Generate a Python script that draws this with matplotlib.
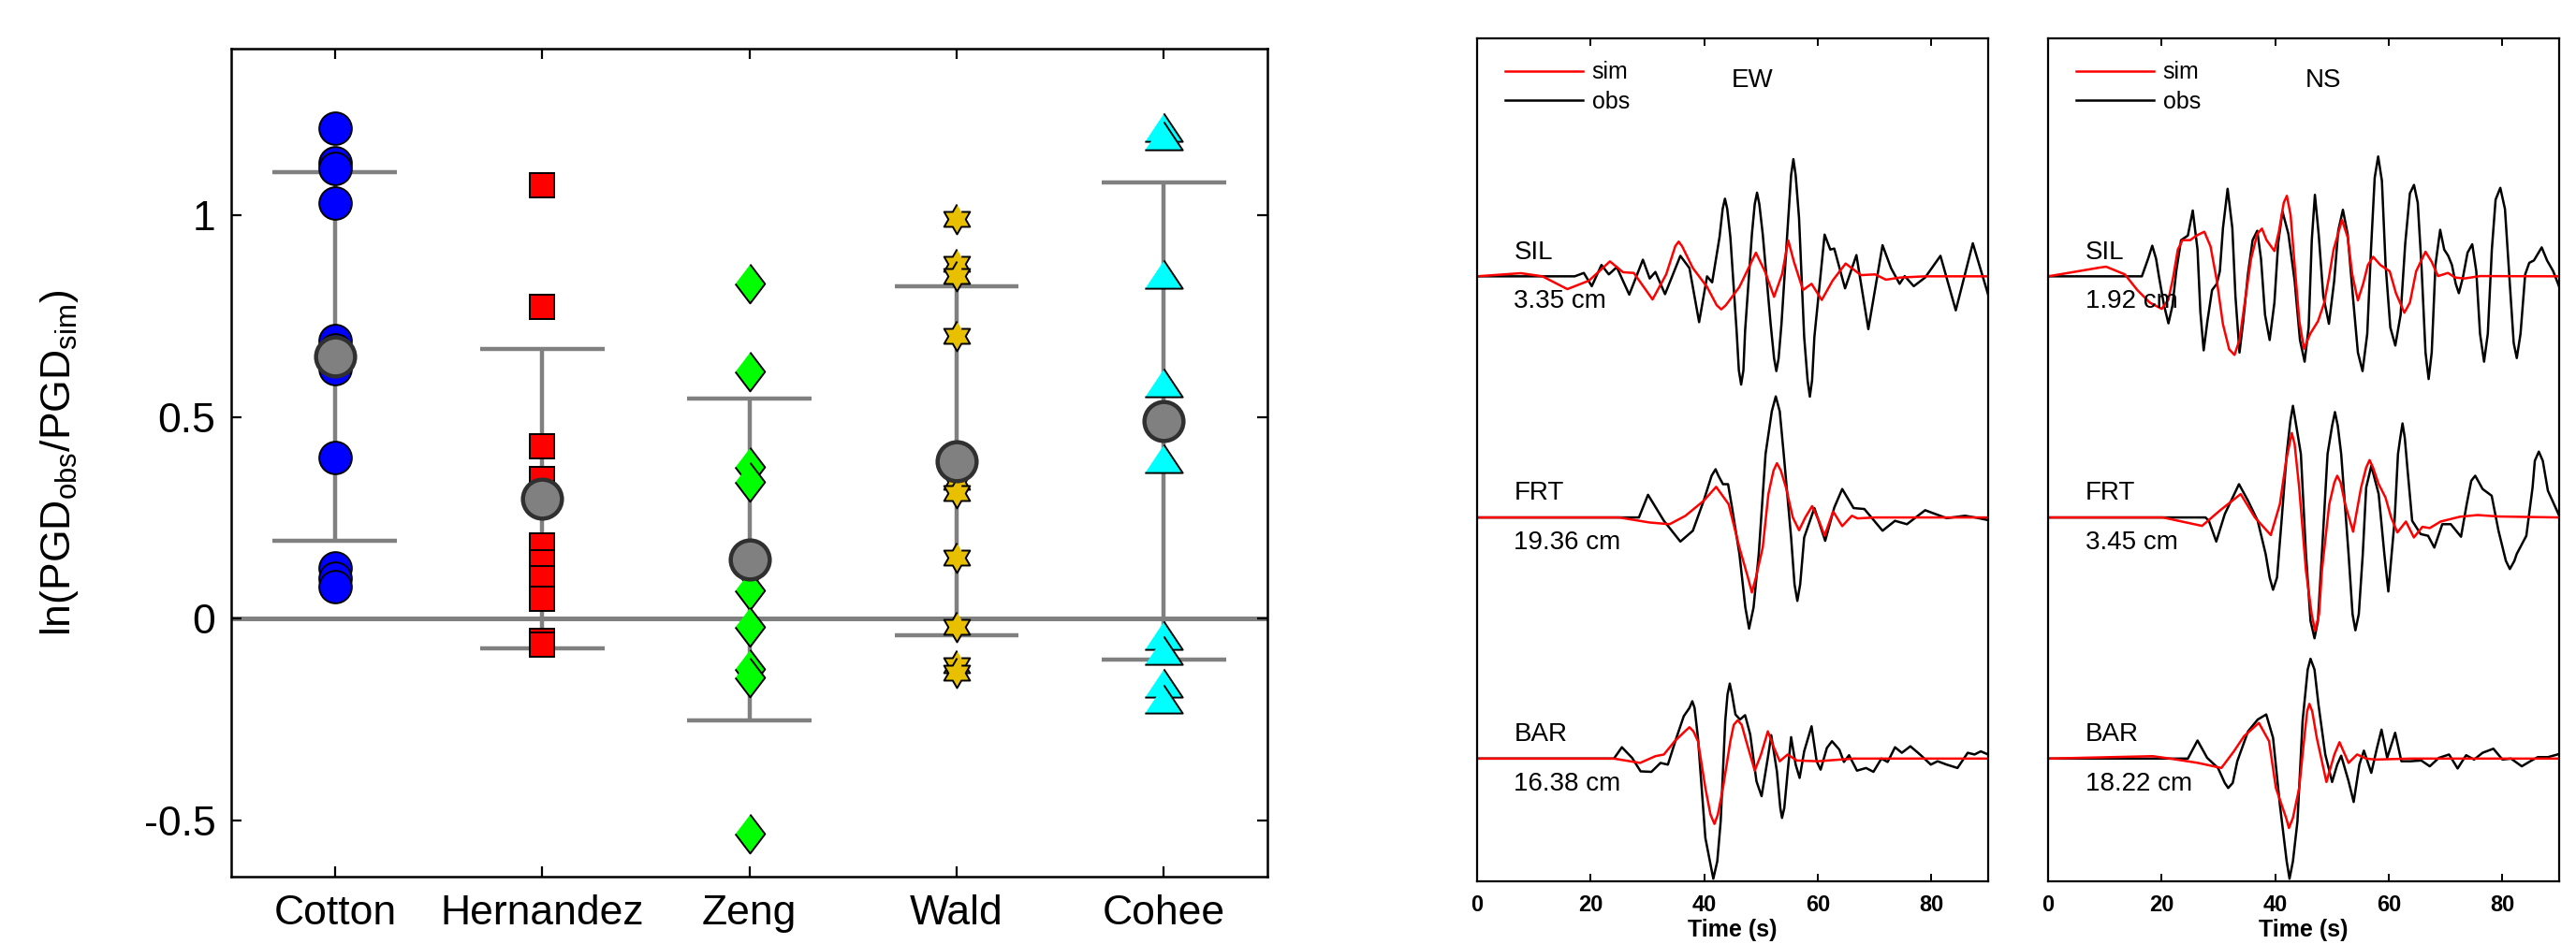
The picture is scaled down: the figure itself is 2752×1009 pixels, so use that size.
import numpy as np
import matplotlib
matplotlib.use('Agg')
import matplotlib.pyplot as plt

plt.rcParams['font.family'] = ['Liberation Sans', 'DejaVu Sans']
plt.rcParams['mathtext.fontset'] = 'custom'
plt.rcParams['mathtext.rm'] = 'Liberation Sans'

# ---------------- left panel: ln(PGDobs/PGDsim) per model ----------------
models = ['Cotton', 'Hernandez', 'Zeng', 'Wald', 'Cohee']
cotton = [1.215, 1.13, 1.115, 1.03, 0.69, 0.665, 0.62, 0.40, 0.125, 0.10, 0.08]
hernandez = [1.075, 0.773, 0.428, 0.345, 0.18, 0.14, 0.10, 0.05, -0.055, -0.065]
zeng = [0.83, 0.612, 0.376, 0.339, 0.12, 0.07, -0.02, -0.124, -0.146, -0.534]
wald = [0.99, 0.88, 0.85, 0.70, 0.34, 0.31, 0.15, -0.02, -0.115, -0.135]
cohee = [1.219, 1.197, 0.854, 0.585, 0.398, -0.042, -0.079, -0.161, -0.199]
means = [0.650, 0.297, 0.147, 0.391, 0.489]
stds = [0.457, 0.372, 0.399, 0.433, 0.592]
ytick_vals = [-0.5, 0, 0.5, 1]
ytick_labels = ['-0.5', '0', '0.5', '1']

# ---------------- right panels: waveforms (time s, normalised amplitude) ----------------
stations = ['SIL', 'FRT', 'BAR']
pgd_ew = ['3.35 cm', '19.36 cm', '16.38 cm']
pgd_ns = ['1.92 cm', '3.45 cm', '18.22 cm']

ew_sil_obs = [(0, 0), (17.2, 0), (18.8, 0.014), (20.2, -0.041), (21.9, 0.047), (23.2, 0.008), (24.6, 0.038),
              (26.8, -0.076), (29.2, 0.069), (30.4, -0.009), (31.4, 0.018), (33.1, -0.074), (35.8, 0.085),
              (37.4, 0.034), (39.1, -0.19), (40.5, 0.0), (41.4, -0.025), (42.7, 0.163), (43.25, 0.28),
              (43.65, 0.322), (44.05, 0.28), (44.6, 0.163), (45.7, -0.225), (46.1, -0.39), (46.5, -0.449),
              (46.9, -0.39), (47.2, -0.225), (48.4, 0.176), (48.9, 0.30), (49.3, 0.347), (49.7, 0.30),
              (50.3, 0.176), (51.7, -0.199), (52.3, -0.34), (52.7, -0.393), (53.1, -0.34), (53.6, -0.199),
              (54.8, 0.241), (55.3, 0.42), (55.7, 0.486), (56.1, 0.42), (56.7, 0.241), (57.6, -0.251),
              (58.2, -0.43), (58.6, -0.499), (59.0, -0.43), (59.4, -0.251), (61.2, 0.173), (62.2, 0.111),
              (62.9, 0.115), (64.8, -0.05), (66.8, 0.088), (68.9, -0.219), (71.4, 0.129), (72.9, 0.034),
              (74.4, -0.031), (75.3, 0.001), (76.9, -0.041), (78.9, -0.005), (81.6, 0.085), (84.3, -0.141),
              (87.3, 0.137), (90.0, -0.076)]
ew_sil_sim = [(0, 0), (7.7, 0.013), (11.5, 0), (15.9, -0.053), (19.7, -0.018), (23.4, 0.062), (25.7, 0.017),
              (27.6, 0.014), (30.9, -0.096), (33.3, 0.008), (34.9, 0.125), (35.5, 0.144), (36.1, 0.125),
              (38.0, 0.034), (40.5, -0.044), (42.2, -0.12), (43.0, -0.137), (43.8, -0.12), (46.2, -0.044),
              (49.1, 0.098), (50.7, 0.02), (52.3, -0.085), (53.7, 0.008), (54.8, 0.149), (55.8, 0.06),
              (57.4, -0.057), (58.9, -0.031), (60.7, -0.098), (62.6, -0.018), (64.9, 0.053), (67.6, 0.005),
              (70.1, 0.008), (72.0, -0.014), (74.5, -0.005), (78.9, 0), (90, 0)]
ew_frt_obs = [(0, 0), (28.5, 0), (30.1, 0.094), (32.9, -0.014), (35.8, -0.1), (38.0, -0.055), (39.9, 0.069),
              (41.3, 0.173), (42.0, 0.2), (42.5, 0.173), (43.3, 0.138), (44.2, 0.138), (44.9, 0.041),
              (46.2, -0.152), (47.24, -0.373), (47.9, -0.461), (48.69, -0.373), (49.6, -0.152), (50.8, 0.263),
              (51.9, 0.44), (52.6, 0.502), (53.3, 0.44), (54.0, 0.263), (55.3, -0.083), (55.9, -0.277),
              (56.4, -0.346), (56.9, -0.277), (57.6, -0.083), (59.4, 0.039), (61.3, -0.097), (62.9, 0.041),
              (64.3, 0.118), (66.3, 0.039), (68.2, 0.035), (71.4, -0.055), (73.6, -0.014), (75.7, -0.028),
              (78.9, 0.03), (82.7, -0.003), (85.9, 0.007), (87.7, 0), (90, -0.011)]
ew_frt_sim = [(0, 0), (25, 0), (30.4, -0.021), (33.9, -0.028), (36.7, 0.007), (39.9, 0.069), (42.1, 0.127),
              (44.3, 0.055), (46.2, -0.125), (47.7, -0.249), (48.4, -0.311), (49.1, -0.249), (50.3, -0.125),
              (51.3, 0.097), (52.2, 0.194), (52.8, 0.225), (53.5, 0.194), (54.4, 0.124), (55.6, 0),
              (56.7, -0.053), (57.8, 0), (59.0, 0.047), (60.2, -0.014), (61.2, -0.076), (62.7, 0.025),
              (64.3, -0.036), (66.0, 0.007), (67.0, -0.004), (70.1, 0), (90, 0)]
ew_bar_obs = [(0, 0), (24.1, 0), (25.5, 0.047), (27.3, 0.003), (28.8, -0.053), (30.7, -0.055), (32.3, -0.018),
              (33.6, -0.025), (35.1, 0.086), (36.4, 0.176), (37.4, 0.21), (37.9, 0.238), (38.3, 0.21),
              (38.9, 0.086), (40.2, -0.329), (41.0, -0.426), (41.6, -0.498), (42.3, -0.426), (42.9, -0.26),
              (43.7, 0.155), (44.1, 0.266), (44.5, 0.311), (44.9, 0.266), (45.5, 0.183), (46.3, 0.162),
              (47.2, 0.18), (48.1, 0.1), (49.2, -0.094), (50.1, -0.156), (51.2, 0.003), (51.8, 0.097),
              (52.8, -0.053), (53.4, -0.205), (53.7, -0.246), (54.1, -0.205), (54.7, -0.053), (55.3, 0.089),
              (56.1, -0.025), (56.8, -0.08), (57.6, 0.03), (58.9, 0.134), (59.8, -0.011), (60.5, -0.046),
              (61.6, 0.044), (62.5, 0.072), (63.8, 0.037), (64.6, -0.014), (65.5, 0.014), (66.9, -0.05),
              (68.5, -0.039), (69.8, -0.055), (71.2, 0), (72.3, -0.014), (73.6, 0.047), (74.8, 0.024),
              (76.3, 0.051), (78.0, 0.017), (79.9, -0.025), (81.1, -0.011), (82.7, -0.025), (84.6, -0.039),
              (86.4, 0.024), (87.6, 0.017), (88.7, 0.03), (90, 0.017)]
ew_bar_sim = [(0, 0), (24.1, 0), (28.7, -0.018), (31.4, 0.01), (32.9, 0.017), (34.8, 0.072), (36.6, 0.113),
              (37.4, 0.13), (38.1, 0.113), (38.9, 0.072), (40.2, -0.122), (41.1, -0.232), (41.8, -0.271),
              (42.4, -0.232), (43.3, -0.122), (44.6, 0.072), (45.2, 0.14), (45.9, 0.159), (46.6, 0.14),
              (47.4, 0.072), (48.9, -0.05), (50.0, 0.017), (51.2, 0.113), (52.3, 0.044), (53.3, -0.011),
              (54.7, 0.017), (56.3, -0.008), (60.0, -0.011), (66.3, 0), (90, 0)]

ns_sil_obs = [(0, 0), (16.5, 0), (17.6, 0.073), (18.33, 0.127), (19.0, 0.073), (19.5, 0), (20.4, -0.12),
              (21.18, -0.195), (21.9, -0.12), (22.55, 0.021), (23.4, 0.15), (24.6, 0.169), (25.46, 0.273),
              (26.3, 0.111), (26.8, -0.147), (27.38, -0.307), (28.04, -0.186), (28.86, -0.057), (29.7, -0.031),
              (30.23, 0.021), (30.78, 0.2), (31.6, 0.363), (32.43, 0.2), (32.98, -0.083), (33.69, -0.316),
              (34.35, -0.186), (35.17, 0.008), (36.0, 0.15), (36.82, 0.189), (37.48, 0.072), (38.19, -0.16),
              (39.0, -0.264), (39.84, -0.109), (40.5, 0.137), (41.26, 0.269), (42.3, 0.176), (43.4, -0.018),
              (44.34, -0.264), (45.16, -0.354), (45.87, -0.212), (46.42, 0.15), (46.97, 0.338), (47.63, 0.176),
              (48.45, -0.083), (49.44, -0.197), (50.37, -0.018), (51.08, 0.189), (51.9, 0.276), (52.73, 0.176),
              (53.66, -0.083), (54.54, -0.316), (55.36, -0.393), (56.19, -0.238), (56.85, 0.111), (57.5, 0.409),
              (58.11, 0.497), (58.77, 0.396), (59.42, 0.047), (60.25, -0.212), (61.13, -0.287), (62.06, -0.16),
              (62.88, 0.137), (63.7, 0.344), (64.42, 0.379), (65.08, 0.305), (65.73, 0.047), (66.45, -0.316),
              (67.0, -0.426), (67.54, -0.316), (68.2, 0.047), (69.03, 0.193), (69.74, 0.111), (70.45, 0.085),
              (71.1, 0.047), (71.77, -0.031), (72.32, -0.07), (73.03, -0.005), (73.85, 0.098), (74.68, 0.133),
              (75.39, 0.021), (76.05, -0.238), (76.76, -0.354), (77.42, -0.238), (78.13, 0.111), (78.79, 0.318),
              (79.62, 0.367), (80.44, 0.279), (81.26, -0.018), (81.98, -0.277), (82.52, -0.339), (83.18, -0.238),
              (84.0, 0.008), (84.72, 0.056), (85.54, 0.066), (86.91, 0.12), (87.85, 0.066), (88.94, 0.021),
              (90.0, -0.044)]
ns_sil_sim = [(0, 0), (9.0, 0.036), (10.2, 0.04), (13.5, 0.008), (15.7, -0.057), (17.9, -0.109), (20.0, -0.135),
              (21.18, -0.096), (22.0, -0.005), (22.83, 0.111), (23.65, 0.15), (25.0, 0.15), (26.12, 0.169),
              (27.5, 0.185), (28.59, 0.124), (29.7, -0.018), (30.78, -0.199), (31.88, -0.303), (32.81, -0.326),
              (33.69, -0.264), (34.62, -0.109), (35.72, 0.072), (36.82, 0.176), (37.64, 0.198), (38.46, 0.15),
              (39.84, 0.105), (40.66, 0.189), (41.48, 0.305), (42.03, 0.334), (42.69, 0.254), (43.4, 0.047),
              (44.23, -0.186), (45.05, -0.3), (46.15, -0.238), (47.52, -0.186), (48.62, -0.109), (49.44, -0.005),
              (50.26, 0.111), (51.74, 0.234), (52.73, 0.163), (53.55, 0.008), (54.54, -0.1), (55.47, -0.031),
              (56.3, 0.047), (57.23, 0.081), (58.49, 0.047), (60.14, 0.021), (61.24, -0.07), (62.72, -0.151),
              (63.7, -0.109), (64.8, 0.021), (66.45, 0.102), (67.54, 0.06), (68.65, 0.001), (70.4, 0.014),
              (71.66, -0.005), (73.3, -0.009), (76.05, 0.001), (90, 0)]
ns_frt_obs = [(0, 0), (27.7, 0), (28.3, -0.014), (29.6, -0.1), (31.1, 0.014), (33.6, 0.138), (35.2, 0.069),
              (36.9, -0.014), (38.3, -0.152), (39.0, -0.249), (39.6, -0.3), (40.3, -0.249), (41.1, -0.014),
              (42.0, 0.263), (42.65, 0.40), (43.1, 0.463), (43.55, 0.40), (44.5, 0.263), (45.4, -0.152),
              (46.2, -0.429), (46.9, -0.501), (47.5, -0.429), (48.2, -0.152), (49.2, 0.263), (50.0, 0.38),
              (50.5, 0.437), (51.0, 0.38), (51.6, 0.263), (52.9, -0.152), (53.6, -0.401), (54.1, -0.468),
              (54.7, -0.401), (55.4, -0.152), (56.0, 0.124), (56.9, 0.214), (58.2, 0.097), (59.2, -0.152),
              (59.9, -0.307), (61.0, -0.014), (61.6, 0.263), (62.0, 0.33), (62.4, 0.39), (62.8, 0.33),
              (63.3, 0.194), (64.1, -0.014), (65.6, -0.069), (66.9, -0.076), (68.0, -0.125), (69.4, -0.028),
              (70.9, -0.028), (72.7, -0.08), (73.7, 0.055), (74.5, 0.152), (75.2, 0.173), (75.7, 0.152),
              (76.5, 0.118), (78.1, 0.09), (79.3, -0.055), (80.6, -0.18), (81.3, -0.214), (82.1, -0.18),
              (82.5, -0.152), (84.2, -0.076), (85.3, 0.124), (85.7, 0.235), (86.4, 0.273), (87.1, 0.235),
              (88.0, 0.111), (90, 0.007)]
ns_frt_sim = [(0, 0), (20.2, 0), (27.1, -0.035), (30.2, 0.028), (33.9, 0.097), (36.4, 0), (39.2, -0.073),
              (40.8, 0.055), (41.9, 0.235), (42.5, 0.304), (42.9, 0.35), (43.4, 0.304), (44.2, 0.124),
              (45.4, -0.221), (46.4, -0.401), (47.0, -0.47), (47.7, -0.401), (48.2, -0.221), (49.5, 0.055),
              (50.4, 0.145), (50.9, 0.173), (51.5, 0.145), (52.3, 0.055), (53.7, -0.059), (55.1, 0.124),
              (56.0, 0.207), (56.6, 0.238), (57.2, 0.207), (58.2, 0.138), (59.4, 0.083), (60.4, 0),
              (61.5, -0.062), (63.0, -0.017), (64.4, -0.083), (65.9, -0.039), (67.2, -0.044), (69.1, -0.017),
              (72.5, 0.003), (75.6, 0.01), (79.3, 0.004), (90, 0)]
ns_bar_obs = [(0, 0), (24.6, 0), (26.3, 0.075), (28.0, 0.003), (29.9, -0.039), (31.1, -0.101), (31.7, -0.122),
              (32.5, -0.101), (33.3, -0.011), (35.2, 0.113), (36.9, 0.162), (38.4, 0.183), (39.6, 0.086),
              (40.8, -0.191), (42.0, -0.426), (42.5, -0.498), (43.1, -0.426), (43.9, -0.26), (44.8, 0.155),
              (45.7, 0.369), (46.2, 0.414), (46.9, 0.369), (47.6, 0.224), (48.8, 0.017), (50.0, -0.097),
              (50.9, -0.025), (51.6, 0.012), (52.9, -0.094), (53.8, -0.18), (54.8, -0.025), (55.6, 0.033),
              (56.9, -0.059), (57.9, 0.044), (58.7, 0.12), (59.7, 0.003), (61.1, 0.107), (62.2, -0.011),
              (63.8, -0.011), (65.7, -0.008), (67.2, -0.032), (68.8, 0.003), (70.6, 0.017), (72.1, -0.041),
              (73.6, 0.014), (75.0, -0.004), (76.5, 0.024), (78.4, 0.041), (80.0, -0.004), (81.5, 0),
              (83.4, -0.032), (84.9, -0.011), (86.2, 0.006), (88.0, 0.006), (90, 0.019)]
ns_bar_sim = [(0, 0), (18.4, 0.01), (21.5, 0), (26.4, -0.018), (30.5, -0.039), (32.7, 0.03), (34.5, 0.093),
              (37.1, 0.148), (38.9, 0.072), (40.1, -0.122), (41.9, -0.246), (42.4, -0.288), (43.1, -0.246),
              (44.2, -0.122), (45.1, 0.086), (45.6, 0.196), (46.0, 0.227), (46.5, 0.196), (47.3, 0.086),
              (49.0, -0.097), (50.4, 0.017), (51.3, 0.068), (52.9, -0.018), (54.4, 0.017), (56.0, 0),
              (57.6, -0.004), (63.8, 0), (90, 0)]

# ---------------- figure ----------------
fig = plt.figure(figsize=(13.76, 5.045), dpi=200)
grey = '#808080'

ax = fig.add_axes([0.0898, 0.0714, 0.4022, 0.8771])
x = np.arange(1, len(models) + 1)
lo = np.array(means) - np.array(stds)
hi = np.array(means) + np.array(stds)
ax.vlines(x, lo, hi, color=grey, lw=1.6, zorder=1)
ax.hlines(lo, x - 0.3, x + 0.3, color=grey, lw=1.6, zorder=1)
ax.hlines(hi, x - 0.3, x + 0.3, color=grey, lw=1.6, zorder=1)
ax.axhline(0, color=grey, lw=1.8, zorder=1)

ang = np.deg2rad(np.arange(12) * 30 + 90)
rad = np.where(np.arange(12) % 2 == 0, 1.0, 1 / np.sqrt(3))
hexagram = list(zip(rad * np.cos(ang), rad * np.sin(ang)))
diamond = [(0, 1), (0.76, 0), (0, -1), (-0.76, 0)]
triangle = [(0, 0.75), (1, -0.75), (-1, -0.75)]

groups = [cotton, hernandez, zeng, wald, cohee]
styles = [('o', '#0000FF', 12.5), ('s', '#FF0000', 9.6), (diamond, '#00FF00', 15),
          (hexagram, '#E8C000', 11.5), (triangle, '#00FFFF', 14.5)]
for xi, vals, (mk, col, ms) in zip(x, groups, styles):
    ax.plot([xi] * len(vals), vals, ls='none', marker=mk, ms=ms, mfc=col, mec='k', mew=0.7, zorder=3)
ax.plot(x, means, ls='none', marker='o', ms=15, mfc=grey, mec='#303030', mew=1.6, zorder=4)

ax.set_xlim(0.5, 5.5)
ax.set_ylim(-0.64, 1.413)
ax.set_xticks(x)
ax.set_xticklabels(models, fontsize=16)
ax.set_yticks(ytick_vals)
ax.set_yticklabels(ytick_labels, fontsize=16)
ax.tick_params(direction='in', top=True, right=True, length=4, width=0.8)
ax.tick_params(axis='x', pad=7)
ax.tick_params(axis='y', pad=6)
ax.set_ylabel(r'ln(PGD$_{\rm obs}$/PGD$_{\rm sim}$)', fontsize=16)
ax.yaxis.set_label_coords(-0.146, 0.5)
for s in ax.spines.values():
    s.set_linewidth(0.9)

offsets = [2, 1, 0]
panels = [
    (0.5734, 'EW', pgd_ew, [ew_sil_obs, ew_frt_obs, ew_bar_obs], [ew_sil_sim, ew_frt_sim, ew_bar_sim]),
    (0.7951, 'NS', pgd_ns, [ns_sil_obs, ns_frt_obs, ns_bar_obs], [ns_sil_sim, ns_frt_sim, ns_bar_sim]),
]
for left, comp, pgds, obs_list, sim_list in panels:
    axw = fig.add_axes([left, 0.0664, 0.1984, 0.893])
    handles = []
    for off, name, pgd, obs, sim in zip(offsets, stations, pgds, obs_list, sim_list):
        to, ao = zip(*obs)
        ts, as_ = zip(*sim)
        lo_obs, = axw.plot(to, np.array(ao) + off, color='k', lw=0.9, solid_joinstyle='round')
        lo_sim, = axw.plot(ts, np.array(as_) + off, color='#FF0000', lw=0.9, solid_joinstyle='round')
        if not handles:
            handles = [lo_sim, lo_obs]
        axw.text(6.5, off + 0.1, name, fontsize=10, ha='left', va='center')
        axw.text(6.5, off - 0.105, pgd, fontsize=10, ha='left', va='center')
    axw.text(48.5, 2.812, comp, fontsize=10, ha='center', va='center')
    axw.legend(handles, ['sim', 'obs'], loc='upper left', bbox_to_anchor=(0.055, 0.973),
               frameon=False, borderpad=0, borderaxespad=0, handlelength=3.3,
               handletextpad=0.4, labelspacing=0.29, fontsize=9)
    axw.set_xlim(0, 90)
    axw.set_ylim(-0.509, 2.987)
    axw.set_xticks([0, 20, 40, 60, 80])
    axw.set_yticks([])
    axw.tick_params(direction='in', top=True, length=3, width=0.7, labelsize=8.5, pad=5)
    for lab in axw.get_xticklabels():
        lab.set_fontweight('bold')
    axw.set_xlabel('Time (s)', fontsize=9, fontweight='bold', labelpad=1)
    for s in axw.spines.values():
        s.set_linewidth(0.8)

fig.savefig('out.png', dpi=200)
